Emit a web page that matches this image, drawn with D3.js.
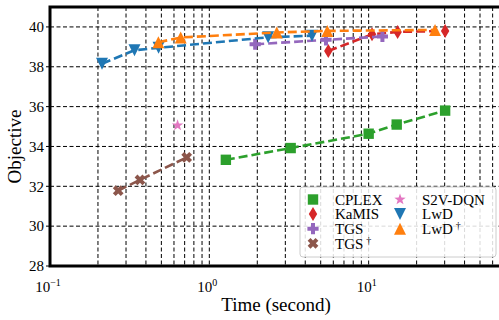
<!DOCTYPE html>
<html>
<head>
<meta charset="utf-8">
<script src="https://cdn.jsdelivr.net/npm/d3@7"></script>
<style>
  body { margin: 0; background: #fff; }
  svg { display: block; font-family: "Liberation Serif", "Times New Roman", serif; }
</style>
</head>
<body>
<div id="chart"></div>
<script>
// values
const cplexTime = [1.27, 3.24, 10, 15, 30.2];
const cplexObj = [33.33, 33.92, 34.64, 35.1, 35.8];
const kamisTime = [5.58, 10.5, 15.2, 30.2];
const kamisObj = [38.79, 39.63, 39.75, 39.8];
const tgsTime = [1.94, 5.4, 12.2];
const tgsObj = [39.13, 39.35, 39.52];
const tgsDagTime = [0.268, 0.367, 0.721];
const tgsDagObj = [31.78, 32.32, 33.45];
const s2vTime = [0.632];
const s2vObj = [35.06];
const lwdTime = [0.212, 0.339, 0.48, 2.34, 4.41];
const lwdObj = [38.15, 38.83, 38.95, 39.48, 39.56];
const lwdDagTime = [0.479, 0.661, 2.65, 5.5, 26.1];
const lwdDagObj = [39.23, 39.47, 39.72, 39.8, 39.85];

const yTicks = [28, 30, 32, 34, 36, 38, 40];
const xMajor = [0.1, 1, 10];
const xMajorExp = ['\u22121', '0', '1'];

const series = [
  { name: 'CPLEX', dag: false, t: cplexTime, v: cplexObj, color: '#2ca02c', marker: 'square', line: true },
  { name: 'KaMIS', dag: false, t: kamisTime, v: kamisObj, color: '#d62728', marker: 'diamond', line: true },
  { name: 'TGS', dag: false, t: tgsTime, v: tgsObj, color: '#9467bd', marker: 'plus', line: true },
  { name: 'TGS', dag: true, t: tgsDagTime, v: tgsDagObj, color: '#8c564b', marker: 'x', line: true },
  { name: 'S2V-DQN', dag: false, t: s2vTime, v: s2vObj, color: '#e377c2', marker: 'star', line: false },
  { name: 'LwD', dag: false, t: lwdTime, v: lwdObj, color: '#1f77b4', marker: 'tridown', line: true },
  { name: 'LwD', dag: true, t: lwdDagTime, v: lwdDagObj, color: '#ff7f0e', marker: 'triup', line: true }
];

const W = 499, H = 320;
const margin = { left: 50, top: 7, right: 502, bottom: 266 };

const x = d3.scaleLog()
  .domain([0.1, 68.7])
  .range([margin.left, margin.right]);
const y = d3.scaleLinear()
  .domain([28, 41])
  .range([margin.bottom, margin.top]);

function markerPath(kind) {
  const p = d3.path();
  const poly = pts => {
    pts.forEach((q, i) => i ? p.lineTo(q[0], q[1]) : p.moveTo(q[0], q[1]));
    p.closePath();
  };
  if (kind === 'square') {
    const r = 5.2;
    poly([[-r, -r], [r, -r], [r, r], [-r, r]]);
  } else if (kind === 'diamond') {
    const r = 7;
    poly([[0, -r], [0.6 * r, 0], [0, r], [-0.6 * r, 0]]);
  } else if (kind === 'plus' || kind === 'x') {
    const r = 5.6, w = 2;
    let pts = [[-w, -r], [w, -r], [w, -w], [r, -w], [r, w], [w, w], [w, r], [-w, r], [-w, w], [-r, w], [-r, -w], [-w, -w]];
    if (kind === 'x') {
      const c = Math.SQRT1_2;
      pts = pts.map(([a, b]) => [(a - b) * c, (a + b) * c]);
    }
    poly(pts);
  } else if (kind === 'star') {
    const ro = 6, ri = 2.4, pts = [];
    for (let i = 0; i < 10; i++) {
      const a = -Math.PI / 2 + i * Math.PI / 5, r = i % 2 ? ri : ro;
      pts.push([r * Math.cos(a), r * Math.sin(a)]);
    }
    poly(pts);
  } else if (kind === 'tridown') {
    const r = 6;
    poly([[-r, -r], [r, -r], [0, r]]);
  } else if (kind === 'triup') {
    const r = 6;
    poly([[0, -r], [r, r], [-r, r]]);
  }
  return p.toString();
}

const svg = d3.select('#chart').append('svg')
  .attr('width', W)
  .attr('height', H);

// grid
const xGrid = [];
[0.1, 1, 10].forEach(d => { for (let k = 1; k <= 9; k++) xGrid.push(d * k); });
const grid = svg.append('g');
grid.selectAll('.gx')
  .data(xGrid.filter(d => d > 0.1 && d < 68))
  .join('line')
  .attr('x1', d => x(d)).attr('x2', d => x(d))
  .attr('y1', margin.top).attr('y2', margin.bottom)
  .attr('stroke', '#000').attr('stroke-width', 1)
  .attr('stroke-dasharray', '4,2.5');
grid.selectAll('.gy')
  .data(yTicks.filter(d => d > 28))
  .join('line')
  .attr('x1', margin.left).attr('x2', margin.right)
  .attr('y1', d => y(d)).attr('y2', d => y(d))
  .attr('stroke', '#000').attr('stroke-width', 1)
  .attr('stroke-dasharray', '4,2.5');

// series
const line = d3.line().x(d => x(d[0])).y(d => y(d[1]));
series.forEach(s => {
  const pts = s.t.map((t, i) => [t, s.v[i]]);
  const g = svg.append('g');
  if (s.line) {
    g.append('path')
      .attr('d', line(pts))
      .attr('fill', 'none')
      .attr('stroke', s.color)
      .attr('stroke-width', 2.6)
      .attr('stroke-dasharray', '9,4');
  }
  g.selectAll('path.m')
    .data(pts)
    .join('path')
    .attr('class', 'm')
    .attr('d', markerPath(s.marker))
    .attr('transform', d => `translate(${x(d[0])},${y(d[1])})`)
    .attr('fill', s.color);
});

// y axis ticks and labels
const yAxis = svg.append('g');
yAxis.selectAll('line')
  .data(yTicks)
  .join('line')
  .attr('x1', margin.left - 4).attr('x2', margin.left)
  .attr('y1', d => y(d)).attr('y2', d => y(d))
  .attr('stroke', '#000').attr('stroke-width', 1);
yAxis.selectAll('text')
  .data(yTicks)
  .join('text')
  .attr('x', margin.left - 6)
  .attr('y', d => y(d))
  .attr('dy', '0.35em')
  .attr('text-anchor', 'end')
  .attr('font-size', 15)
  .text(d => d);

// x tick labels with superscript
const xLab = svg.append('g');
xMajor.forEach((d, i) => {
  const t = xLab.append('text')
    .attr('x', x(d) - 2)
    .attr('y', 292)
    .attr('text-anchor', 'middle')
    .attr('font-size', 15);
  t.append('tspan').text('10');
  t.append('tspan').attr('dy', -6).attr('font-size', 10).text(xMajorExp[i]);
});

// spines
svg.append('path')
  .attr('d', `M${margin.right},${margin.top}H${margin.left}V${margin.bottom}H${margin.right}`)
  .attr('fill', 'none')
  .attr('stroke', '#000')
  .attr('stroke-width', 3);

// axis titles
svg.append('text')
  .attr('x', 276).attr('y', 311)
  .attr('text-anchor', 'middle')
  .attr('font-size', 19)
  .text('Time (second)');
svg.append('text')
  .attr('transform', `translate(21,${(margin.top + margin.bottom) / 2 + 10}) rotate(-90)`)
  .attr('text-anchor', 'middle')
  .attr('font-size', 19)
  .text('Objective');

// legend
const lg = svg.append('g');
lg.append('rect')
  .attr('x', 300).attr('y', 187)
  .attr('width', 196).attr('height', 70)
  .attr('rx', 3)
  .attr('fill', '#fff').attr('fill-opacity', 0.85)
  .attr('stroke', '#ccc').attr('stroke-width', 1);
series.forEach((s, i) => {
  const col = i < 4 ? 0 : 1, row = i < 4 ? i : i - 4;
  const mx = col ? 400 : 313, my = 199.5 + row * 14.6;
  lg.append('path')
    .attr('d', markerPath(s.marker))
    .attr('transform', `translate(${mx},${my})`)
    .attr('fill', s.color);
  const t = lg.append('text')
    .attr('x', mx + 22).attr('y', my)
    .attr('dy', '0.35em')
    .attr('font-size', 15)
    .text(s.name);
  if (s.dag) t.append('tspan').attr('dx', 3).attr('dy', -5).attr('font-size', 10).text('\u2020');
});
</script>
</body>
</html>
